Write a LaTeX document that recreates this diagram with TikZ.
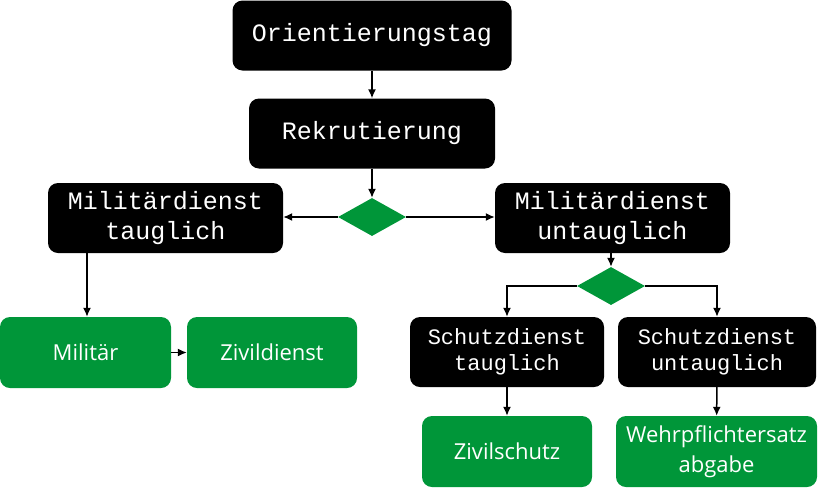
\documentclass[tikz,border=0pt]{standalone}
\usepackage{fontspec}
\setmainfont{Open Sans}
\newfontfamily\monofont{Liberation Mono}
\usepackage{xcolor}
\usetikzlibrary{
    arrows.meta,
    positioning,
    shapes.geometric,
    calc
}
\definecolor{flowgreen}{RGB}{0,150,57}
\tikzset{
    block/.style={
        rectangle,
        rounded corners=10pt,
        fill=black,
        text=white,
        align=center,
        inner sep=0pt,
        minimum height=70pt,
        font=\monofont\fontsize{25}{30}\selectfont
    },
    smallblock/.style={
        block,
        font=\monofont\fontsize{22}{26}\selectfont
    },
    endblock/.style={
        rectangle,
        rounded corners=10pt,
        fill=flowgreen,
        text=white,
        align=center,
        inner sep=0pt,
        minimum height=71pt,
        minimum width=170pt,
        font=\fontsize{22}{30}\selectfont
    },
    decision/.style={
        diamond,
        fill=flowgreen,
        inner sep=0pt,
        minimum width=68pt,
        minimum height=38pt
    },
    arrow/.style={
        -{Latex[length=9pt,width=8pt]},
        line width=1.5pt
    }
}
\begin{document}
\begin{tikzpicture}[x=1pt,y=-1pt]
\useasboundingbox (0,0) rectangle (818,493);

\node[block, minimum width=279pt] (orient) at (372,35.5) {Orientierungstag};
\node[block, minimum width=246pt] (rekrut) at (372,133.5) {Rekrutierung};
\node[decision] (dec1) at (372,217) {};
\node[block, minimum width=235pt] (mt) at (165.5,218) {Militärdienst\\tauglich};
\node[block, minimum width=235pt] (mu) at (612.5,218) {Militärdienst\\untauglich};
\node[decision] (dec2) at (611,286) {};
\node[endblock, minimum width=171pt] (militaer) at (85.5,352.5) {Militär};
\node[endblock] (zivil) at (272,352.5) {Zivildienst};
\node[smallblock, minimum width=194pt] (st) at (507,352) {Schutzdienst\\tauglich};
\node[smallblock, minimum width=198pt] (su) at (717,352) {Schutzdienst\\untauglich};
\node[endblock] (zivilschutz) at (507,451.5) {Zivilschutz};
\node[endblock, minimum width=201pt] (wehr) at (716.5,451.5) {Wehrpflichtersatz\\abgabe};

\draw[arrow] (orient) -- (rekrut);
\draw[arrow] (rekrut) -- (dec1);
\draw[arrow] (dec1.west) -- (dec1.west -| mt.east);
\draw[arrow] (dec1.east) -- (dec1.east -| mu.west);
\draw[arrow] (mt.south -| 87,0) -- (militaer.north -| 87,0);
\draw[arrow] (militaer) -- (zivil);
\draw[arrow] (mu.south -| dec2.north) -- (dec2.north);
\draw[arrow] (dec2.west) -| (st.north);
\draw[arrow] (dec2.east) -| (su.north);
\draw[arrow] (st) -- (zivilschutz);
\draw[arrow] (su) -- (wehr);

\end{tikzpicture}
\end{document}
